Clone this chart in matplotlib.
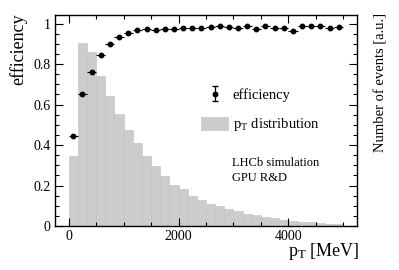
import numpy as np
import matplotlib
matplotlib.use("Agg")
import matplotlib.pyplot as plt
from matplotlib.ticker import MultipleLocator

plt.rcParams['font.family'] = ['Liberation Serif', 'DejaVu Serif']
plt.rcParams['mathtext.fontset'] = 'custom'
plt.rcParams['mathtext.rm'] = 'Liberation Serif'
plt.rcParams['mathtext.it'] = 'Liberation Serif:italic'

# ---- data ----
pt_min, pt_max, n_bins = 0, 5000, 30
pt_edges = np.linspace(pt_min, pt_max, n_bins + 1)

efficiency = [0.443, 0.650, 0.761, 0.846, 0.897, 0.935, 0.951, 0.966, 0.971, 0.970,
              0.973, 0.973, 0.976, 0.979, 0.979, 0.984, 0.988, 0.984, 0.978, 0.986,
              0.971, 0.989, 0.979, 0.976, 0.964, 0.986, 0.986, 0.988, 0.978, 0.981]
efficiency_err = [0.010, 0.009, 0.007, 0.006, 0.005, 0.004, 0.004, 0.004, 0.004, 0.004,
                  0.004, 0.004, 0.004, 0.004, 0.004, 0.004, 0.004, 0.004, 0.004, 0.004,
                  0.005, 0.005, 0.005, 0.005, 0.006, 0.006, 0.006, 0.006, 0.007, 0.007]
pt_distribution = [0.346, 0.902, 0.860, 0.740, 0.641, 0.552, 0.476, 0.412, 0.346, 0.296,
                   0.247, 0.204, 0.181, 0.148, 0.130, 0.110, 0.0965, 0.082, 0.072, 0.058,
                   0.055, 0.046, 0.041, 0.032, 0.026, 0.022, 0.019, 0.016, 0.012, 0.010]

x_ticks = [0, 2000, 4000]
y_ticks = [0, 0.2, 0.4, 0.6, 0.8, 1]
y_tick_labels = ['0', '0.2', '0.4', '0.6', '0.8', '1']

# ---- figure ----
fig = plt.figure(figsize=(3.99, 2.70), dpi=100)
ax = fig.add_axes([55 / 399, 44 / 270, 302 / 399, 211 / 270])

centers = 0.5 * (pt_edges[:-1] + pt_edges[1:])
widths = np.diff(pt_edges)

bars = ax.bar(pt_edges[:-1], pt_distribution, width=widths, align='edge',
              color='#cccccc', edgecolor='#c0c0c0', linewidth=0.4,
              label=r'$\mathrm{p_{T}}$ distribution', zorder=1)

ax.errorbar(centers, efficiency, xerr=widths / 2, yerr=efficiency_err,
            fmt='o', color='black', markersize=3.2, elinewidth=0.8,
            capsize=0, zorder=3)

# legend proxy (vertical error bar with caps)
proxy = ax.errorbar([np.nan], [np.nan], yerr=[0.1], fmt='o', color='black',
                    markersize=3.2, elinewidth=0.9, capsize=2.0)

ax.set_xlim(-250, 5250)
ax.set_ylim(0, 1.042)

ax.set_xticks(x_ticks)
ax.set_xticklabels([str(v) for v in x_ticks])
ax.xaxis.set_minor_locator(MultipleLocator(500))
ax.set_yticks(y_ticks)
ax.set_yticklabels(y_tick_labels)
ax.yaxis.set_minor_locator(MultipleLocator(0.05))

ax.tick_params(which='both', direction='in', top=True, right=True,
               labelsize=10, width=0.8, pad=3)
ax.tick_params(which='major', length=5.5)
ax.tick_params(which='minor', length=2.8)
for s in ax.spines.values():
    s.set_linewidth(1.0)

leg = ax.legend([proxy, bars], ['efficiency', r'$\mathrm{p_{T}}$ distribution'],
                loc='upper left', bbox_to_anchor=(0.485, 0.655),
                frameon=False, fontsize=10.5, handlelength=1.8,
                handleheight=1.0, handletextpad=0.35, labelspacing=0.95,
                borderpad=0, borderaxespad=0)

ax.text(0.585, 0.30, 'LHCb simulation', transform=ax.transAxes,
        fontsize=9, ha='left', va='center')
ax.text(0.585, 0.228, 'GPU R&D', transform=ax.transAxes,
        fontsize=9, ha='left', va='center')

fig.text(18 / 399, 1 - 13 / 270, 'efficiency', rotation=90,
         ha='center', va='top', fontsize=13)
fig.text(381 / 399, 1 - 13 / 270, 'Number of events [a.u.]', rotation=90,
         ha='center', va='top', fontsize=10.5)
fig.text(359 / 399, (270 - 256.5) / 270, r'$\mathrm{p_{T}}$ [MeV]',
         ha='right', va='baseline', fontsize=13)

fig.savefig('out.png', dpi=100)
